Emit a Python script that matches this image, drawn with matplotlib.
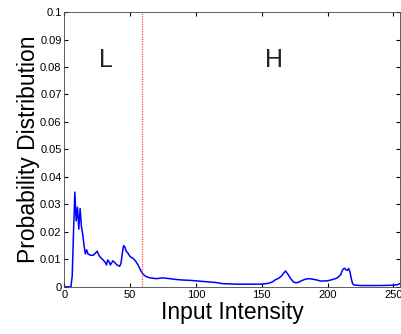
import matplotlib
matplotlib.use("Agg")
import matplotlib.pyplot as plt

plt.rcParams['font.family'] = ['Liberation Sans', 'DejaVu Sans']

# histogram (intensity, probability)
intensity = [0, 5, 6, 7, 8, 9, 10, 11, 12, 13, 14, 15, 16, 17, 18, 20, 22, 24, 25, 26,
             27, 28, 30, 31, 32, 33, 34, 35, 36, 37, 38, 40, 42, 43, 44, 45, 46, 47, 48,
             50, 52, 54, 56, 58, 60, 62, 65, 70, 75, 80, 85, 90, 95, 100, 105, 110, 115,
             120, 125, 130, 140, 150, 155, 158, 160, 163, 165, 167, 168, 170, 172, 174,
             176, 178, 180, 183, 186, 189, 192, 195, 198, 200, 203, 206, 208, 210, 211,
             212, 213, 214, 215, 216, 217, 218, 219, 220, 225, 230, 240, 250, 253, 255]
prob = [0, 0, 0.004, 0.02, 0.0345, 0.024, 0.029, 0.021, 0.0285, 0.022, 0.019, 0.015, 0.012,
        0.0135, 0.012, 0.0115, 0.0115, 0.0125, 0.013, 0.0118, 0.011, 0.0105, 0.0095, 0.009,
        0.008, 0.0098, 0.0092, 0.008, 0.0088, 0.0095, 0.009, 0.008, 0.0075, 0.0085, 0.012,
        0.015, 0.0145, 0.013, 0.0125, 0.011, 0.0105, 0.0095, 0.008, 0.006, 0.0045, 0.0038,
        0.0033, 0.003, 0.0033, 0.003, 0.0027, 0.0025, 0.0024, 0.0022, 0.002, 0.0018, 0.0016,
        0.0012, 0.0011, 0.001, 0.001, 0.001, 0.0013, 0.0018, 0.0025, 0.0032, 0.004, 0.0052,
        0.0058, 0.0045, 0.003, 0.0018, 0.0015, 0.0017, 0.0022, 0.0028, 0.003, 0.0028, 0.0025,
        0.0021, 0.0022, 0.0022, 0.0026, 0.003, 0.0035, 0.0045, 0.0058, 0.0066, 0.0068, 0.0062,
        0.006, 0.0067, 0.0055, 0.003, 0.0012, 0.0007, 0.0005, 0.0005, 0.0005, 0.0006, 0.0008,
        0.0012]

threshold = 59
regions = ["L", "H"]
region_x = [31.5, 159]
region_y = 0.0824

fig = plt.figure(figsize=(4.02, 3.34), dpi=100)
ax = fig.add_axes([0.16, 0.141, 0.835, 0.823])

ax.plot(intensity, prob, color='#0000ff', lw=1.1)
ax.axvline(threshold, color='#ff4a4a', lw=0.9, linestyle=(0, (1, 1)))
for lab, xx in zip(regions, region_x):
    ax.text(xx, region_y, lab, fontsize=18, ha='center', va='center', color='#222222')

ax.set_xlim(0, 255)
ax.set_ylim(0, 0.1)
ax.set_xticks([0, 50, 100, 150, 200, 250])
ax.set_yticks([0, 0.01, 0.02, 0.03, 0.04, 0.05, 0.06, 0.07, 0.08, 0.09, 0.1])
ax.set_yticklabels(['0', '0.01', '0.02', '0.03', '0.04', '0.05', '0.06', '0.07', '0.08', '0.09', '0.1'])
ax.tick_params(direction='in', labelsize=8, top=True, right=True, length=3, pad=2)
for s in ax.spines.values():
    s.set_linewidth(0.6)
    s.set_color('#444444')
ax.set_xlabel("Input Intensity", fontsize=16.5, labelpad=1)
ax.set_ylabel("Probability Distribution", fontsize=16.5, labelpad=0)

fig.savefig("out.png", dpi=100)
